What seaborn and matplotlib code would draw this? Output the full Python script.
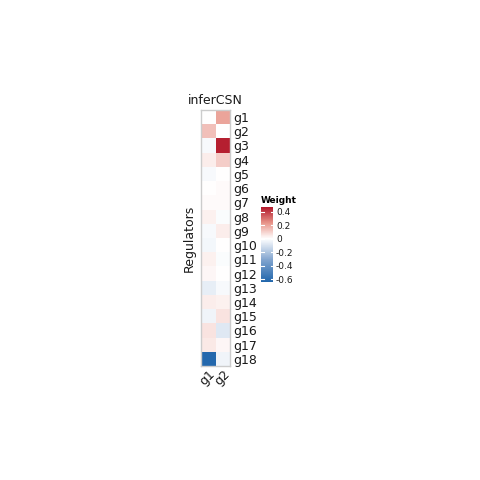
import numpy as np
import pandas as pd
import matplotlib
matplotlib.use("Agg")
import matplotlib.pyplot as plt
import seaborn as sns
from matplotlib.colors import LinearSegmentedColormap

regulators = ["g%d" % i for i in range(1, 19)]
targets = ["g1", "g2"]

# weights (column g1, column g2)
w_g1 = [0.0, 0.14, -0.02, 0.04, -0.02, 0.0, 0.01, 0.03, -0.02,
        -0.03, 0.03, 0.02, -0.06, 0.04, -0.04, 0.06, 0.05, -0.63]
w_g2 = [0.2, 0.0, 0.45, 0.11, 0.0, 0.01, 0.01, -0.01, 0.04,
        0.0, -0.01, 0.0, -0.02, 0.03, 0.06, -0.08, 0.02, -0.04]
cbar_ticks = [0.4, 0.2, 0, -0.2, -0.4, -0.6]

df = pd.DataFrame({"g1": w_g1, "g2": w_g2}, index=regulators)

vmin, vmax = -0.64, 0.465
mid = -vmin / (vmax - vmin)
cmap = LinearSegmentedColormap.from_list(
    "wt", [(0, "#2166AC"), (mid / 2, "#7FA3CE"), (mid, "#FFFFFF"),
           (mid + (1 - mid) / 2, "#E8958A"), (1, "#B2182B")])

fig = plt.figure(figsize=(4.8, 4.8), dpi=100)
ax = fig.add_axes([0.419, 0.2375, 0.061, 0.5335])
cax = fig.add_axes([0.544, 0.4125, 0.025, 0.156])

sns.heatmap(df, ax=ax, cbar_ax=cax, cmap=cmap, vmin=vmin, vmax=vmax,
            linewidths=0, xticklabels=True, yticklabels=True,
            cbar_kws={"ticks": cbar_ticks})

ax.yaxis.tick_right()
ax.set_yticklabels(regulators, rotation=0, fontsize=9, color="#1A1A1A")
ax.set_xticklabels(targets, rotation=45, ha="right", rotation_mode="anchor",
                   fontsize=9, color="#1A1A1A")
ax.tick_params(axis="y", length=0, pad=2)
ax.tick_params(axis="x", length=0, pad=1)
ax.set_ylabel("Regulators", fontsize=9, color="#1A1A1A", labelpad=4)
ax.yaxis.set_label_position("left")
ax.set_xlabel("")
ax.set_title("inferCSN", fontsize=9, color="#1A1A1A", pad=4)
for s in ax.spines.values():
    s.set_visible(True)
    s.set_color("#CCCCCC")
    s.set_linewidth(1)

cax.tick_params(length=0, labelsize=6.5, pad=2, colors="#1A1A1A")
cax.set_yticklabels(["0.4", "0.2", "0", "-0.2", "-0.4", "-0.6"])
for t in cbar_ticks:
    cax.axhline(t, xmin=0, xmax=0.2, color="white", lw=0.8)
    cax.axhline(t, xmin=0.8, xmax=1, color="white", lw=0.8)
cax.set_title("Weight", fontsize=6.5, fontweight="bold", loc="left", pad=3)

fig.savefig("out.png", dpi=100)
